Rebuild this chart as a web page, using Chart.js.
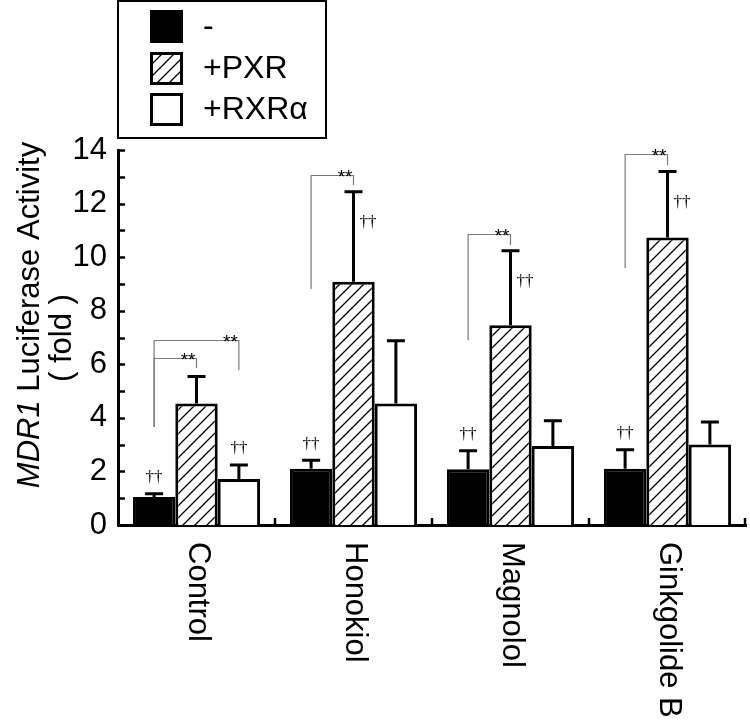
<!DOCTYPE html>
<html>
<head>
<meta charset="utf-8">
<script src="https://cdn.jsdelivr.net/npm/chart.js@4.4.0/dist/chart.umd.min.js"></script>
<style>
  body { margin: 0; background: #fff; }
  canvas { display: block; }
</style>
</head>
<body>
<canvas id="luciferaseChart" width="750" height="727"></canvas>
<script>
  // values (fold activity, upward SD only)
  const categories = ['Control', 'Honokiol', 'Magnolol', 'Ginkgolide B'];
  const seriesLabels = ['-', '+PXR', '+RXRα'];
  const baseValues = [1.05, 2.1, 2.08, 2.1];
  const baseErrors = [0.12, 0.32, 0.69, 0.71];
  const pxrValues = [4.54, 9.08, 7.46, 10.73];
  const pxrErrors = [1.0, 3.36, 2.78, 2.47];
  const rxrValues = [1.72, 4.54, 2.95, 3.01];
  const rxrErrors = [0.52, 2.34, 0.94, 0.84];
  const yMax = 14;
  const yStep = 2;

  // which bars carry the dagger mark (per category: -, +PXR, +RXRa)
  const daggerMarks = [
    [true, false, true],
    [true, true, false],
    [true, true, false],
    [true, true, false]
  ];
  // significance brackets, in data units: category, from/to series, top, left leg end, right leg end
  const brackets = [
    { cat: 0, from: 0, to: 1, top: 6.23, leftEnd: 3.66, rightEnd: 5.86 },
    { cat: 0, from: 0, to: 2, top: 6.90, leftEnd: 3.66, rightEnd: 5.78 },
    { cat: 1, from: 0, to: 1, top: 13.06, leftEnd: 8.81, rightEnd: 12.69 },
    { cat: 2, from: 0, to: 1, top: 10.86, leftEnd: 6.90, rightEnd: 10.45 },
    { cat: 3, from: 0, to: 1, top: 13.84, leftEnd: 9.59, rightEnd: 13.43 }
  ];

  const errors = [baseErrors, pxrErrors, rxrErrors];
  const FONT = '"Liberation Sans", Arial, Helvetica, sans-serif';

  function makeHatch() {
    const c = document.createElement('canvas');
    c.width = 12; c.height = 12;
    const g = c.getContext('2d');
    g.fillStyle = '#fff';
    g.fillRect(0, 0, 12, 12);
    g.strokeStyle = '#000';
    g.lineWidth = 1.3;
    g.beginPath();
    g.moveTo(0, 12); g.lineTo(12, 0);
    g.moveTo(-2, 2); g.lineTo(2, -2);
    g.moveTo(10, 14); g.lineTo(14, 10);
    g.stroke();
    return g.createPattern(c, 'repeat');
  }
  const hatch = makeHatch();
  const fills = ['#000', hatch, '#fff'];

  const overlay = {
    id: 'overlay',
    afterDatasetsDraw(chart) {
      const ctx = chart.ctx;
      const y = chart.scales.y;
      const x = chart.scales.x;
      const area = chart.chartArea;
      ctx.save();

      // error bars
      ctx.strokeStyle = '#000';
      ctx.lineWidth = 3;
      chart.data.datasets.forEach((ds, d) => {
        chart.getDatasetMeta(d).data.forEach((bar, i) => {
          const top = y.getPixelForValue(ds.data[i] + errors[d][i]);
          ctx.beginPath();
          ctx.moveTo(bar.x, bar.y);
          ctx.lineTo(bar.x, top);
          ctx.moveTo(bar.x - 9, top);
          ctx.lineTo(bar.x + 9, top);
          ctx.stroke();
        });
      });

      // inward ticks on y axis
      ctx.lineWidth = 2.5;
      for (let v = 0; v <= yMax; v++) {
        const py = Math.round(y.getPixelForValue(v)) + 0.5;
        ctx.beginPath();
        ctx.moveTo(area.left, py);
        ctx.lineTo(area.left + 7, py);
        ctx.stroke();
      }
      // inward ticks between categories
      for (let i = 0; i < categories.length; i++) {
        const px = i < categories.length - 1
          ? (x.getPixelForValue(i) + x.getPixelForValue(i + 1)) / 2
          : area.right - 1;
        ctx.beginPath();
        ctx.moveTo(px, area.bottom);
        ctx.lineTo(px, area.bottom - 7);
        ctx.stroke();
      }

      // daggers
      ctx.fillStyle = '#000';
      ctx.font = '17px "Liberation Serif", "Times New Roman", serif';
      ctx.textBaseline = 'middle';
      daggerMarks.forEach((row, i) => {
        row.forEach((on, d) => {
          if (!on) return;
          const bar = chart.getDatasetMeta(d).data[i];
          const top = y.getPixelForValue(chart.data.datasets[d].data[i] + errors[d][i]);
          if (d === 1) {
            ctx.textAlign = 'left';
            ctx.fillText('††', bar.x + 6, top + 31);
          } else {
            ctx.textAlign = 'center';
            ctx.fillText('††', bar.x, top - 16);
          }
        });
      });

      // significance brackets
      brackets.forEach(b => {
        const x1 = chart.getDatasetMeta(b.from).data[b.cat].x;
        const x2 = chart.getDatasetMeta(b.to).data[b.cat].x;
        const yt = Math.round(y.getPixelForValue(b.top)) + 0.5;
        ctx.strokeStyle = '#7a7a7a';
        ctx.lineWidth = 1.2;
        ctx.beginPath();
        ctx.moveTo(x1, y.getPixelForValue(b.leftEnd));
        ctx.lineTo(x1, yt);
        ctx.lineTo(x2, yt);
        ctx.lineTo(x2, y.getPixelForValue(b.rightEnd));
        ctx.stroke();
        ctx.fillStyle = '#000';
        ctx.font = '19px ' + FONT;
        ctx.textAlign = 'right';
        ctx.textBaseline = 'alphabetic';
        ctx.fillText('**', x2 - 1, yt + 7);
      });
      ctx.restore();
    },
    afterDraw(chart) {
      const ctx = chart.ctx;
      const x = chart.scales.x;
      ctx.save();
      ctx.fillStyle = '#000';

      // category labels, rotated clockwise
      ctx.font = '31px ' + FONT;
      ctx.textAlign = 'left';
      ctx.textBaseline = 'middle';
      categories.forEach((c, i) => {
        ctx.save();
        ctx.translate(x.getPixelForValue(i) + 1, 542);
        ctx.rotate(Math.PI / 2);
        ctx.fillText(c, 0, 0);
        ctx.restore();
      });

      // y axis title
      ctx.save();
      ctx.translate(30, 315);
      ctx.rotate(-Math.PI / 2);
      ctx.textBaseline = 'middle';
      const part1 = 'MDR1';
      const part2 = ' Luciferase Activity';
      ctx.font = 'italic 31px ' + FONT;
      const w1 = ctx.measureText(part1).width;
      ctx.font = '31px ' + FONT;
      const w2 = ctx.measureText(part2).width;
      const start = -(w1 + w2) / 2;
      ctx.textAlign = 'left';
      ctx.font = 'italic 31px ' + FONT;
      ctx.fillText(part1, start, 0);
      ctx.font = '31px ' + FONT;
      ctx.fillText(part2, start + w1, 0);
      ctx.restore();
      ctx.save();
      ctx.translate(62, 338);
      ctx.rotate(-Math.PI / 2);
      ctx.font = '31px ' + FONT;
      ctx.textAlign = 'center';
      ctx.textBaseline = 'middle';
      ctx.fillText('( fold )', 0, 0);
      ctx.restore();

      // legend box
      ctx.strokeStyle = '#000';
      ctx.lineWidth = 2;
      ctx.fillStyle = '#fff';
      ctx.fillRect(118, 1, 208, 137);
      ctx.strokeRect(118, 1, 208, 137);
      const rows = [10, 52, 93];
      seriesLabels.forEach((lab, d) => {
        ctx.fillStyle = fills[d];
        ctx.fillRect(151, rows[d] + 1, 30, 30);
        ctx.lineWidth = 3;
        ctx.strokeRect(151.5, rows[d] + 1.5, 30, 30);
        ctx.fillStyle = '#000';
        ctx.font = '32px ' + FONT;
        ctx.textAlign = 'left';
        ctx.textBaseline = 'middle';
        ctx.fillText(lab, 203, rows[d] + 17);
      });
      ctx.restore();
    }
  };

  const canvas = document.getElementById('luciferaseChart');
  const luciferaseChart = new Chart(canvas, {
      type: 'bar',
      data: {
          labels: categories,
          datasets: [
              { label: seriesLabels[0], data: baseValues, backgroundColor: fills[0] },
              { label: seriesLabels[1], data: pxrValues, backgroundColor: fills[1] },
              { label: seriesLabels[2], data: rxrValues, backgroundColor: fills[2] }
          ]
      },
      options: {
          responsive: false,
          animation: false,
          layout: { padding: { top: 150, right: 4, left: 0, bottom: 0 } },
          datasets: {
              bar: {
                  borderColor: '#000',
                  borderWidth: 3,
                  borderSkipped: 'start',
                  categoryPercentage: 0.81,
                  barPercentage: 1.0
              }
          },
          scales: {
              x: {
                  grid: { display: false, drawTicks: false },
                  border: { display: true, color: '#000', width: 3 },
                  ticks: { display: false },
                  afterFit: s => { s.height = 202; }
              },
              y: {
                  min: 0,
                  max: yMax,
                  grid: { display: false, drawTicks: false },
                  border: { display: true, color: '#000', width: 3 },
                  ticks: {
                      stepSize: yStep,
                      padding: 11,
                      color: '#000',
                      font: { family: FONT, size: 31 }
                  },
                  afterFit: s => { s.width = 118; }
              }
          },
          plugins: {
              legend: { display: false },
              tooltip: { enabled: false }
          }
      },
      plugins: [overlay]
  });
</script>
</body>
</html>
